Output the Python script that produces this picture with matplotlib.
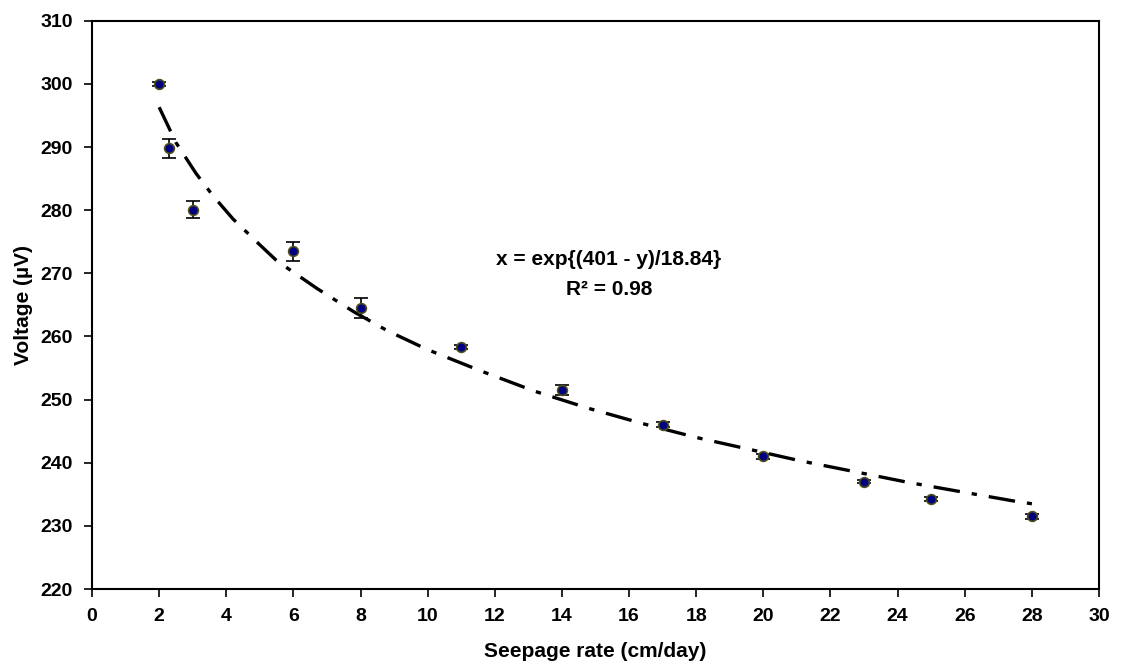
import matplotlib
matplotlib.use("Agg")
import matplotlib.pyplot as plt

plt.rcParams['font.family'] = ['Liberation Sans', 'DejaVu Sans']
plt.rcParams['font.weight'] = 'bold'

# measured data
seepage = [2, 2.3, 3, 6, 8, 11, 14, 17, 20, 23, 25, 28]
voltage = [300, 289.8, 280.1, 273.5, 264.5, 258.3, 251.5, 246.0, 241.0, 237.0, 234.3, 231.5]
voltage_err = [0.3, 1.5, 1.3, 1.5, 1.6, 0.3, 0.8, 0.4, 0.4, 0.2, 0.3, 0.4]

# trendline
fit_x = [2.0, 2.5, 3.1, 3.6, 4.2, 5.0, 5.5, 6.7, 7.8, 8.8, 10.0, 11.6, 13.2, 14.8,
         16.4, 18.0, 19.6, 21.1, 22.8, 24.3, 26.0, 27.5, 28.0]
fit_y = [296.3, 290.7, 285.8, 282.3, 278.6, 274.5, 272.0, 267.6, 263.9, 260.9, 257.9,
         254.5, 251.3, 248.6, 246.2, 244.0, 242.1, 240.3, 238.5, 236.9, 235.3, 233.9, 233.5]

x_ticks = list(range(0, 31, 2))
y_ticks = list(range(220, 311, 10))

fig = plt.figure(figsize=(11.21, 6.66), dpi=100)
ax = fig.add_axes([0.0821, 0.1156, 0.9804 - 0.0821, 0.9689 - 0.1156])

line, = ax.plot(fit_x, fit_y, color='black', lw=2.4, zorder=2)
line.set_dashes([8.0, 3.6, 1.6, 3.6])

ax.errorbar(seepage, voltage, yerr=voltage_err, fmt='o', ms=7,
            mfc='#000080', mec='#4d4d1a', mew=1.2, ecolor='black',
            elinewidth=1.2, capsize=5, capthick=1.2, zorder=3)

ax.text(15.4, 272.2, 'x = exp{(401 - y)/18.84}', ha='center', va='center',
        fontsize=15, fontweight='bold')
ax.text(15.4, 267.4, 'R² = 0.98', ha='center', va='center',
        fontsize=15, fontweight='bold')

ax.set_xlim(0, 30)
ax.set_ylim(220, 310)
ax.set_xticks(x_ticks)
ax.set_yticks(y_ticks)
ax.tick_params(direction='out', length=6, width=1.2, labelsize=14, pad=8)
for lab in ax.get_xticklabels() + ax.get_yticklabels():
    lab.set_fontweight('bold')
for s in ax.spines.values():
    s.set_linewidth(1.5)
    s.set_color('black')

ax.set_xlabel('Seepage rate (cm/day)', fontsize=15, fontweight='bold', labelpad=12)
ax.set_ylabel('Voltage (µV)', fontsize=15, fontweight='bold', labelpad=5)

fig.savefig('out.png', dpi=100)
